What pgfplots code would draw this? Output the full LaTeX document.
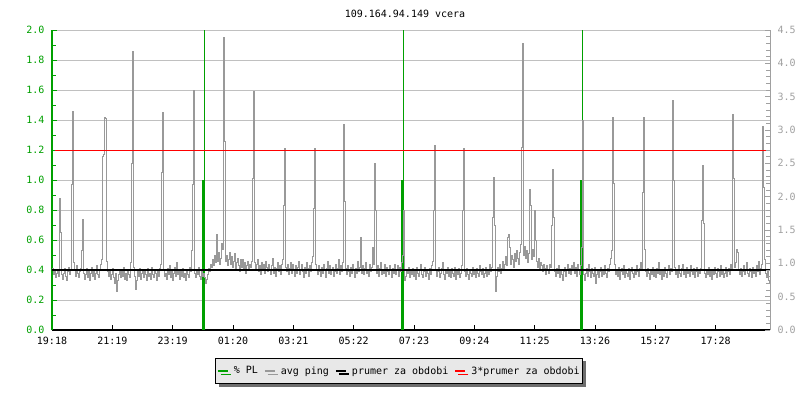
\documentclass[border=0pt]{standalone}
\usepackage{pgfplots}
\usepackage{pgfplotstable}
\pgfplotsset{compat=1.18}
\usepackage{fontspec}
\setmainfont{DejaVu Sans Mono}
\usetikzlibrary{shadows}
\definecolor{plgreen}{RGB}{0,160,0}
\definecolor{pinggray}{RGB}{153,153,153}
\definecolor{gridgray}{RGB}{192,192,192}
\definecolor{legfill}{RGB}{232,232,232}
\definecolor{shadowgray}{RGB}{110,110,110}
\definecolor{axisgray}{RGB}{160,160,160}

% avg ping, one value per pixel column (in left-axis units)
\pgfplotstableread[row sep=\\, header=false]{
0.41\\0.37\\0.39\\0.35\\0.38\\0.40\\0.36\\0.88\\0.65\\0.37\\
0.34\\0.38\\0.41\\0.36\\0.33\\0.39\\0.42\\0.37\\0.40\\0.97\\
1.46\\0.45\\0.40\\0.36\\0.43\\0.38\\0.35\\0.39\\0.41\\0.53\\
0.74\\0.38\\0.34\\0.37\\0.41\\0.35\\0.39\\0.33\\0.38\\0.42\\
0.36\\0.40\\0.34\\0.38\\0.43\\0.37\\0.35\\0.40\\0.44\\0.47\\
1.16\\1.17\\1.42\\1.41\\0.46\\0.39\\0.36\\0.40\\0.34\\0.37\\
0.41\\0.35\\0.31\\0.38\\0.26\\0.33\\0.37\\0.40\\0.35\\0.39\\
0.36\\0.42\\0.34\\0.38\\0.33\\0.40\\0.37\\0.35\\0.45\\1.11\\
1.86\\0.42\\0.36\\0.27\\0.33\\0.39\\0.36\\0.41\\0.34\\0.38\\
0.40\\0.35\\0.39\\0.37\\0.33\\0.41\\0.36\\0.38\\0.34\\0.42\\
0.37\\0.35\\0.40\\0.38\\0.33\\0.39\\0.36\\0.41\\0.44\\1.05\\
1.45\\0.40\\0.36\\0.38\\0.34\\0.41\\0.37\\0.43\\0.35\\0.39\\
0.33\\0.38\\0.42\\0.36\\0.45\\0.37\\0.40\\0.34\\0.39\\0.36\\
0.41\\0.35\\0.38\\0.33\\0.40\\0.37\\0.35\\0.42\\0.39\\0.53\\
0.97\\1.60\\0.38\\0.35\\0.40\\0.37\\0.42\\0.36\\0.34\\0.39\\
0.36\\0.38\\0.35\\0.31\\0.34\\0.37\\0.41\\0.39\\0.44\\0.42\\
0.47\\0.43\\0.50\\0.45\\0.64\\0.46\\0.52\\0.44\\0.48\\0.58\\
0.54\\1.95\\1.26\\0.46\\0.50\\0.43\\0.47\\0.52\\0.44\\0.49\\
0.42\\0.46\\0.51\\0.40\\0.45\\0.48\\0.43\\0.39\\0.47\\0.42\\
0.47\\0.41\\0.45\\0.38\\0.43\\0.46\\0.40\\0.44\\0.42\\0.46\\
1.01\\1.59\\0.45\\0.40\\0.44\\0.47\\0.39\\0.43\\0.37\\0.45\\
0.41\\0.44\\0.38\\0.46\\0.42\\0.39\\0.44\\0.40\\0.37\\0.43\\
0.48\\0.38\\0.42\\0.36\\0.41\\0.45\\0.39\\0.43\\0.37\\0.44\\
0.47\\0.83\\1.21\\0.42\\0.39\\0.44\\0.37\\0.41\\0.45\\0.38\\
0.44\\0.40\\0.36\\0.43\\0.38\\0.42\\0.46\\0.37\\0.40\\0.44\\
0.39\\0.35\\0.42\\0.38\\0.45\\0.41\\0.36\\0.43\\0.39\\0.45\\
0.49\\0.81\\1.21\\0.44\\0.40\\0.37\\0.43\\0.39\\0.36\\0.42\\
0.38\\0.44\\0.40\\0.35\\0.41\\0.46\\0.38\\0.43\\0.37\\0.40\\
0.42\\0.36\\0.39\\0.44\\0.38\\0.41\\0.47\\0.37\\0.43\\0.39\\
0.45\\1.37\\0.86\\0.41\\0.37\\0.43\\0.39\\0.36\\0.42\\0.38\\
0.44\\0.40\\0.35\\0.41\\0.38\\0.46\\0.39\\0.42\\0.62\\0.38\\
0.43\\0.37\\0.41\\0.45\\0.38\\0.40\\0.36\\0.44\\0.39\\0.42\\
0.55\\0.44\\1.11\\0.80\\0.38\\0.43\\0.36\\0.41\\0.45\\0.37\\
0.40\\0.38\\0.44\\0.36\\0.42\\0.39\\0.37\\0.43\\0.40\\0.35\\
0.41\\0.38\\0.44\\0.37\\0.40\\0.43\\0.36\\0.42\\0.39\\0.45\\
0.50\\0.80\\0.33\\0.36\\0.40\\0.38\\0.42\\0.35\\0.39\\0.37\\
0.41\\0.36\\0.39\\0.34\\0.42\\0.38\\0.36\\0.40\\0.44\\0.37\\
0.35\\0.39\\0.42\\0.36\\0.40\\0.38\\0.34\\0.41\\0.37\\0.43\\
0.46\\0.80\\1.23\\0.40\\0.36\\0.39\\0.42\\0.35\\0.38\\0.41\\
0.45\\0.37\\0.34\\0.40\\0.38\\0.42\\0.36\\0.39\\0.35\\0.41\\
0.38\\0.36\\0.42\\0.34\\0.39\\0.37\\0.41\\0.35\\0.38\\0.43\\
0.80\\1.21\\0.39\\0.36\\0.41\\0.37\\0.34\\0.40\\0.38\\0.36\\
0.42\\0.37\\0.39\\0.35\\0.41\\0.38\\0.36\\0.43\\0.39\\0.37\\
0.41\\0.35\\0.38\\0.42\\0.36\\0.40\\0.37\\0.44\\0.39\\0.42\\
0.75\\1.02\\0.70\\0.26\\0.36\\0.42\\0.39\\0.44\\0.38\\0.41\\
0.46\\0.40\\0.44\\0.49\\0.43\\0.62\\0.64\\0.55\\0.44\\0.50\\
0.47\\0.42\\0.51\\0.46\\0.53\\0.48\\0.44\\0.52\\0.57\\1.22\\
1.91\\0.50\\0.56\\0.48\\0.53\\0.45\\0.51\\0.94\\0.83\\0.47\\
0.54\\0.49\\0.80\\0.60\\0.46\\0.42\\0.48\\0.40\\0.45\\0.43\\
0.39\\0.44\\0.41\\0.37\\0.43\\0.40\\0.38\\0.44\\0.42\\0.70\\
1.07\\0.75\\0.39\\0.36\\0.41\\0.38\\0.43\\0.35\\0.40\\0.37\\
0.33\\0.39\\0.42\\0.36\\0.40\\0.44\\0.38\\0.41\\0.37\\0.43\\
0.40\\0.45\\0.38\\0.42\\0.36\\0.44\\0.40\\0.37\\0.43\\0.55\\
1.40\\0.37\\0.33\\0.38\\0.41\\0.36\\0.44\\0.39\\0.35\\0.41\\
0.38\\0.36\\0.42\\0.31\\0.37\\0.40\\0.35\\0.39\\0.42\\0.36\\
0.40\\0.37\\0.43\\0.38\\0.35\\0.41\\0.39\\0.44\\0.48\\0.53\\
1.42\\0.98\\0.44\\0.37\\0.40\\0.36\\0.42\\0.34\\0.39\\0.41\\
0.37\\0.43\\0.35\\0.40\\0.38\\0.36\\0.41\\0.34\\0.39\\0.42\\
0.38\\0.35\\0.40\\0.37\\0.43\\0.39\\0.36\\0.41\\0.45\\0.40\\
0.92\\1.42\\0.54\\0.39\\0.36\\0.41\\0.38\\0.34\\0.40\\0.37\\
0.42\\0.36\\0.39\\0.35\\0.41\\0.38\\0.45\\0.37\\0.40\\0.34\\
0.39\\0.36\\0.42\\0.38\\0.35\\0.40\\0.43\\0.37\\0.41\\0.39\\
1.53\\1.00\\0.42\\0.37\\0.40\\0.35\\0.43\\0.38\\0.36\\0.41\\
0.44\\0.37\\0.39\\0.35\\0.42\\0.38\\0.40\\0.36\\0.43\\0.39\\
0.37\\0.41\\0.35\\0.39\\0.42\\0.36\\0.40\\0.38\\0.41\\0.73\\
1.10\\0.71\\0.38\\0.35\\0.40\\0.37\\0.42\\0.36\\0.39\\0.34\\
0.40\\0.37\\0.42\\0.38\\0.35\\0.41\\0.39\\0.36\\0.43\\0.37\\
0.40\\0.35\\0.38\\0.42\\0.36\\0.39\\0.41\\0.37\\0.44\\0.40\\
1.44\\1.01\\0.42\\0.45\\0.54\\0.52\\0.40\\0.37\\0.41\\0.36\\
0.39\\0.43\\0.37\\0.40\\0.45\\0.38\\0.36\\0.41\\0.39\\0.35\\
0.42\\0.38\\0.40\\0.36\\0.43\\0.39\\0.46\\0.37\\0.41\\0.44\\
1.36\\0.95\\0.47\\0.38\\0.35\\0.40\\0.33\\0.31\\0.30\\
}\pingdata

\begin{document}
\begin{tikzpicture}[font=\fontsize{10}{12}\selectfont]
\path[use as bounding box] (0,0) rectangle (800pt,400pt);
\node at (405pt,386pt) {109.164.94.149 vcera};

% left scale, time in pixel columns
\begin{axis}[
    at={(52pt,70pt)}, anchor=south west,
    width=718pt, height=300pt, scale only axis,
    xmin=0, xmax=718, ymin=0, ymax=2,
    axis x line*=bottom, axis y line*=left,
    x axis line style={-, black, line width=1.2pt},
    y axis line style={-, plgreen, line width=1.2pt},
    xtick={0,60.33,120.67,181,241.33,301.67,362,422.33,482.67,543,603.33,663.67},
    xticklabels={19:18,21:19,23:19,01:20,03:21,05:22,07:23,09:24,11:25,13:26,15:27,17:28},
    ytick={0,0.2,0.4,0.6,0.8,1.0,1.2,1.4,1.6,1.8,2.0},
    minor y tick num=1,
    major tick length=5pt, minor tick length=4pt,
    x tick style={black, line width=1pt},
    y tick style={plgreen, line width=1pt},
    ymajorgrids, grid style={gridgray, line width=1pt},
    tick label style={font=\fontsize{10}{12}\selectfont},
    xticklabel style={yshift=-4pt},
    yticklabel style={text=plgreen, xshift=-4pt},
    /pgf/number format/assume math mode=true,
    yticklabel style={/pgf/number format/.cd, fixed, fixed zerofill, precision=1},
    legend columns=4,
    legend cell align=left,
    legend image code/.code={\draw[#1, line width=2pt] (0pt,0pt) -- (10pt,0pt);},
    legend style={at={(0.4836,-0.1367)}, anchor=center,
        draw=black, line width=0.8pt, fill=legfill,
        font=\fontsize{10}{12}\selectfont,
        drop shadow={shadow xshift=3pt, shadow yshift=-3pt, fill=shadowgray, opacity=1},
        inner xsep=1pt, inner ysep=6pt,
        /tikz/every odd column/.append style={column sep=3pt},
        /tikz/every even column/.append style={column sep=4pt}},
]
% % PL
\addplot[ycomb, plgreen, line width=1pt] coordinates {(152,2.0) (351,2.0) (530,2.0)};
\addlegendentry{\% PL}
\addplot[ycomb, plgreen, line width=2.5pt, forget plot] coordinates {(151.5,1.0) (350.5,1.0) (529.5,1.0)};

% avg ping
\addplot[const plot, pinggray, line width=1pt] table[x expr=\coordindex, y index=0] {\pingdata};
\addlegendentry{avg ping}

\addplot[black, line width=2pt] coordinates {(0,0.397) (718,0.397)};
\addlegendentry{prumer za obdobi}
\addplot[red, line width=1pt] coordinates {(3,1.2) (718,1.2)};
\addlegendentry{3*prumer za obdobi}
\end{axis}

% right scale
\begin{axis}[
    at={(52pt,70pt)}, anchor=south west,
    width=718pt, height=300pt, scale only axis,
    xmin=0, xmax=718, ymin=0, ymax=4.5,
    axis x line=none, axis y line*=right,
    y axis line style={-, axisgray, line width=1pt},
    ytick={0,0.5,1.0,1.5,2.0,2.5,3.0,3.5,4.0,4.5},
    minor y tick num=4,
    major tick length=5pt, minor tick length=4pt,
    y tick style={axisgray, line width=1pt},
    tick label style={font=\fontsize{10}{12}\selectfont},
    yticklabel style={text=axisgray, xshift=4pt},
    /pgf/number format/assume math mode=true,
    yticklabel style={/pgf/number format/.cd, fixed, fixed zerofill, precision=1},
]
\end{axis}
\end{tikzpicture}
\end{document}
